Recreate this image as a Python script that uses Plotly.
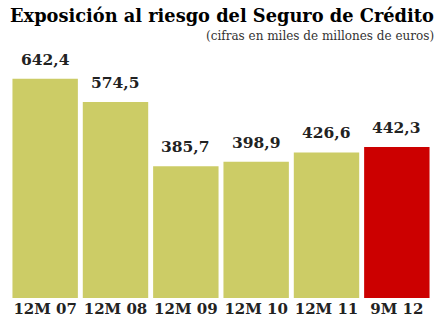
import plotly.graph_objects as go

periods = ["12M 07", "12M 08", "12M 09", "12M 10", "12M 11", "9M 12"]
exposure = [642.4, 574.5, 385.7, 398.9, 426.6, 442.3]
bar_colors = ["#CCCC66"] * 5 + ["#CC0000"]

serif = "DejaVu Serif, Liberation Serif, serif"

fig = go.Figure(
    go.Bar(
        x=periods,
        y=exposure,
        marker=dict(color=bar_colors, line=dict(width=0)),
        cliponaxis=False,
    )
)

# value labels above each bar
value_labels = [
    dict(
        x=p, y=v, xref="x", yref="y",
        text="<b>" + f"{v:.1f}".replace(".", ",") + "</b>",
        showarrow=False, yanchor="bottom", yshift=8,
        font=dict(family=serif, size=15.5, color="#222222"),
    )
    for p, v in zip(periods, exposure)
]

fig.update_layout(
    width=440,
    height=326,
    margin=dict(l=10, r=8, t=40, b=26),
    paper_bgcolor="white",
    plot_bgcolor="white",
    separators=",.",
    bargap=0.07,
    showlegend=False,
    xaxis=dict(
        showgrid=False,
        showline=False,
        zeroline=False,
        ticks="",
        tickfont=dict(family=serif, size=15, color="#222222", weight="bold"),
    ),
    yaxis=dict(
        range=[0, 756],
        visible=False,
    ),
    annotations=value_labels + [
        dict(
            text="<b>Exposición al riesgo del Seguro de Crédito</b>",
            xref="paper", yref="paper", x=1, y=1,
            xanchor="right", yanchor="bottom",
            xshift=4, yshift=12,
            showarrow=False,
            font=dict(family=serif, size=17.8, color="#000000"),
        ),
        dict(
            text="(cifras en miles de millones de euros)",
            xref="paper", yref="paper", x=1, y=1,
            xanchor="right", yanchor="bottom",
            xshift=4, yshift=-5,
            showarrow=False,
            font=dict(family=serif, size=12, color="#333333"),
        ),
    ],
)

fig.write_html("out.html")
